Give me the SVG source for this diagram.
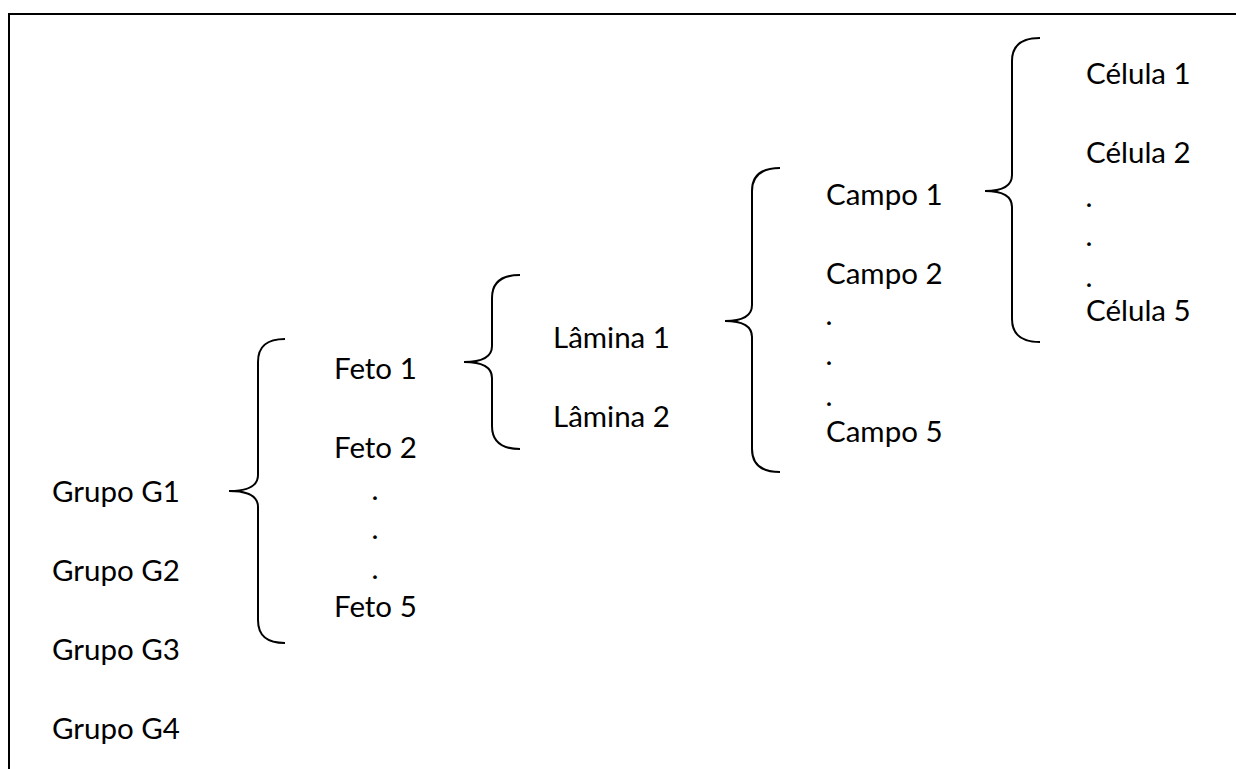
<svg xmlns="http://www.w3.org/2000/svg" width="1236" height="769" viewBox="0 0 1236 769">
<style>
text{font-family:Lato,"Open Sans","Liberation Sans",sans-serif;font-size:29.5px;fill:#000}
.d{text-anchor:middle}
.br{fill:none;stroke:#000;stroke-width:2}
.frame{fill:none;stroke:#000;stroke-width:2}
</style>
<rect width="1236" height="769" fill="#fff"/>
<path class="frame" d="M9,769 L9,14 L1236,14"/>
<g id="connectors">
<path class="br" d="M285,339 C268,339 258,345 258,362 L258,475 C258,486 248,491 229,491 C248,491 258,496 258,507 L258,620 C258,637 268,643 285,643"/>
<path class="br" d="M520,275 C503,275 492,281 492,298 L492,346 C492,357 482,362 464,362 C482,362 492,367 492,378 L492,426 C492,443 503,449 520,449"/>
<path class="br" d="M780,168 C763,168 752,174 752,191 L752,305 C752,316 742,321 725,321 C742,321 752,326 752,337 L752,449 C752,466 763,472 780,472"/>
<path class="br" d="M1040,38 C1023,38 1012,44 1012,61 L1012,175 C1012,186 1002,191 985,191 C1002,191 1012,196 1012,207 L1012,319 C1012,336 1023,342 1040,342"/>
</g>
<g id="grupos">
<text x="52" y="502">Grupo G1</text>
<text x="52" y="581">Grupo G2</text>
<text x="52" y="660">Grupo G3</text>
<text x="52" y="739">Grupo G4</text>
</g>
<g id="fetos">
<text x="334" y="379">Feto 1</text>
<text x="334" y="458">Feto 2</text>
<text class="d" x="375" y="500">.</text>
<text class="d" x="375" y="539">.</text>
<text class="d" x="375" y="579">.</text>
<text x="334" y="617">Feto 5</text>
</g>
<g id="laminas">
<text x="553" y="348">Lâmina 1</text>
<text x="553" y="427">Lâmina 2</text>
</g>
<g id="campos">
<text x="826" y="205">Campo 1</text>
<text x="826" y="284">Campo 2</text>
<text class="d" x="829" y="325">.</text>
<text class="d" x="829" y="365">.</text>
<text class="d" x="829" y="406">.</text>
<text x="826" y="442">Campo 5</text>
</g>
<g id="celulas">
<text x="1086" y="84">Célula 1</text>
<text x="1086" y="163">Célula 2</text>
<text class="d" x="1089" y="207">.</text>
<text class="d" x="1089" y="246">.</text>
<text class="d" x="1089" y="287">.</text>
<text x="1086" y="321">Célula 5</text>
</g>
</svg>
